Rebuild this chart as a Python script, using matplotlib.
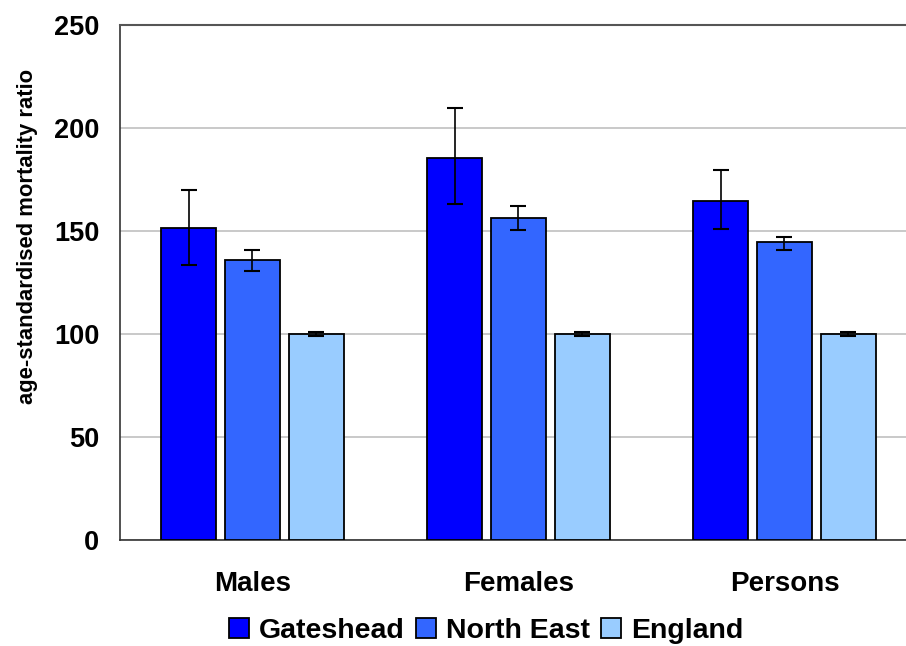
import matplotlib
matplotlib.use("Agg")
import matplotlib.pyplot as plt
import numpy as np

categories = ["Males", "Females", "Persons"]
series = ["Gateshead", "North East", "England"]
gateshead = [151.4, 185.4, 164.8]
gateshead_lo = [133.7, 162.9, 151.2]
gateshead_hi = [169.7, 209.7, 179.4]
north_east = [135.8, 156.2, 144.6]
north_east_lo = [130.8, 150.4, 140.7]
north_east_hi = [140.7, 161.9, 147.3]
england = [100, 100, 100]
england_lo = [99, 99, 99]
england_hi = [101, 101, 101]
colors = ["#0000FF", "#3366FF", "#99CCFF"]
yticks = [0, 50, 100, 150, 200, 250]

plt.rcParams['font.family'] = ['Liberation Sans', 'DejaVu Sans']
plt.rcParams['font.weight'] = 'bold'

fig = plt.figure(figsize=(9.06, 6.46), dpi=100)
ax = fig.add_axes([120/906, 106/646, 786/906, 515/646])

x = np.arange(len(categories))
width = 0.207
offset = 0.24
data = [(gateshead, gateshead_lo, gateshead_hi),
        (north_east, north_east_lo, north_east_hi),
        (england, england_lo, england_hi)]
handles = []
for i, (vals, lo, hi) in enumerate(data):
    vals = np.array(vals); lo = np.array(lo); hi = np.array(hi)
    pos = x + (i - 1) * offset
    b = ax.bar(pos, vals, width, color=colors[i], edgecolor='black', linewidth=1.3,
               label=series[i], zorder=3)
    ax.errorbar(pos, vals, yerr=[vals - lo, hi - vals], fmt='none', ecolor='black',
                elinewidth=1.2, capsize=5.5, capthick=1.5, zorder=4)
    handles.append(b)

ax.set_xlim(-0.498, 2.457)
ax.set_ylim(0, 250)
ax.set_yticks(yticks)
ax.set_yticklabels([str(t) for t in yticks], fontsize=19.5, fontweight='bold')
ax.set_xticks(x)
ax.set_xticklabels(categories, fontsize=20, fontweight='bold')
ax.tick_params(axis='x', length=0, pad=22)
ax.tick_params(axis='y', length=0, pad=15)
ax.yaxis.grid(True, color='#c0c0c0', linewidth=1.2, zorder=0)
ax.set_axisbelow(True)
ax.spines['right'].set_visible(False)
ax.spines['top'].set_color('#555555')
ax.spines['top'].set_linewidth(1.5)
ax.spines['left'].set_color('#333333')
ax.spines['bottom'].set_color('#333333')
ax.spines['left'].set_linewidth(1.2)
ax.spines['bottom'].set_linewidth(1.2)

ax.set_ylabel("age-standardised mortality ratio", fontsize=15.8, fontweight='bold')
ax.yaxis.set_label_coords(-82/786, (540-236)/515)

fig.legend(handles=handles, labels=series, loc='center', bbox_to_anchor=(486/906, 1 - 631/646),
           ncol=3, frameon=False, prop={'weight': 'bold', 'size': 20.5},
           handlelength=0.7, handleheight=0.7, handletextpad=0.35, columnspacing=0.4,
           borderaxespad=0)

fig.savefig("out.png", dpi=100)
